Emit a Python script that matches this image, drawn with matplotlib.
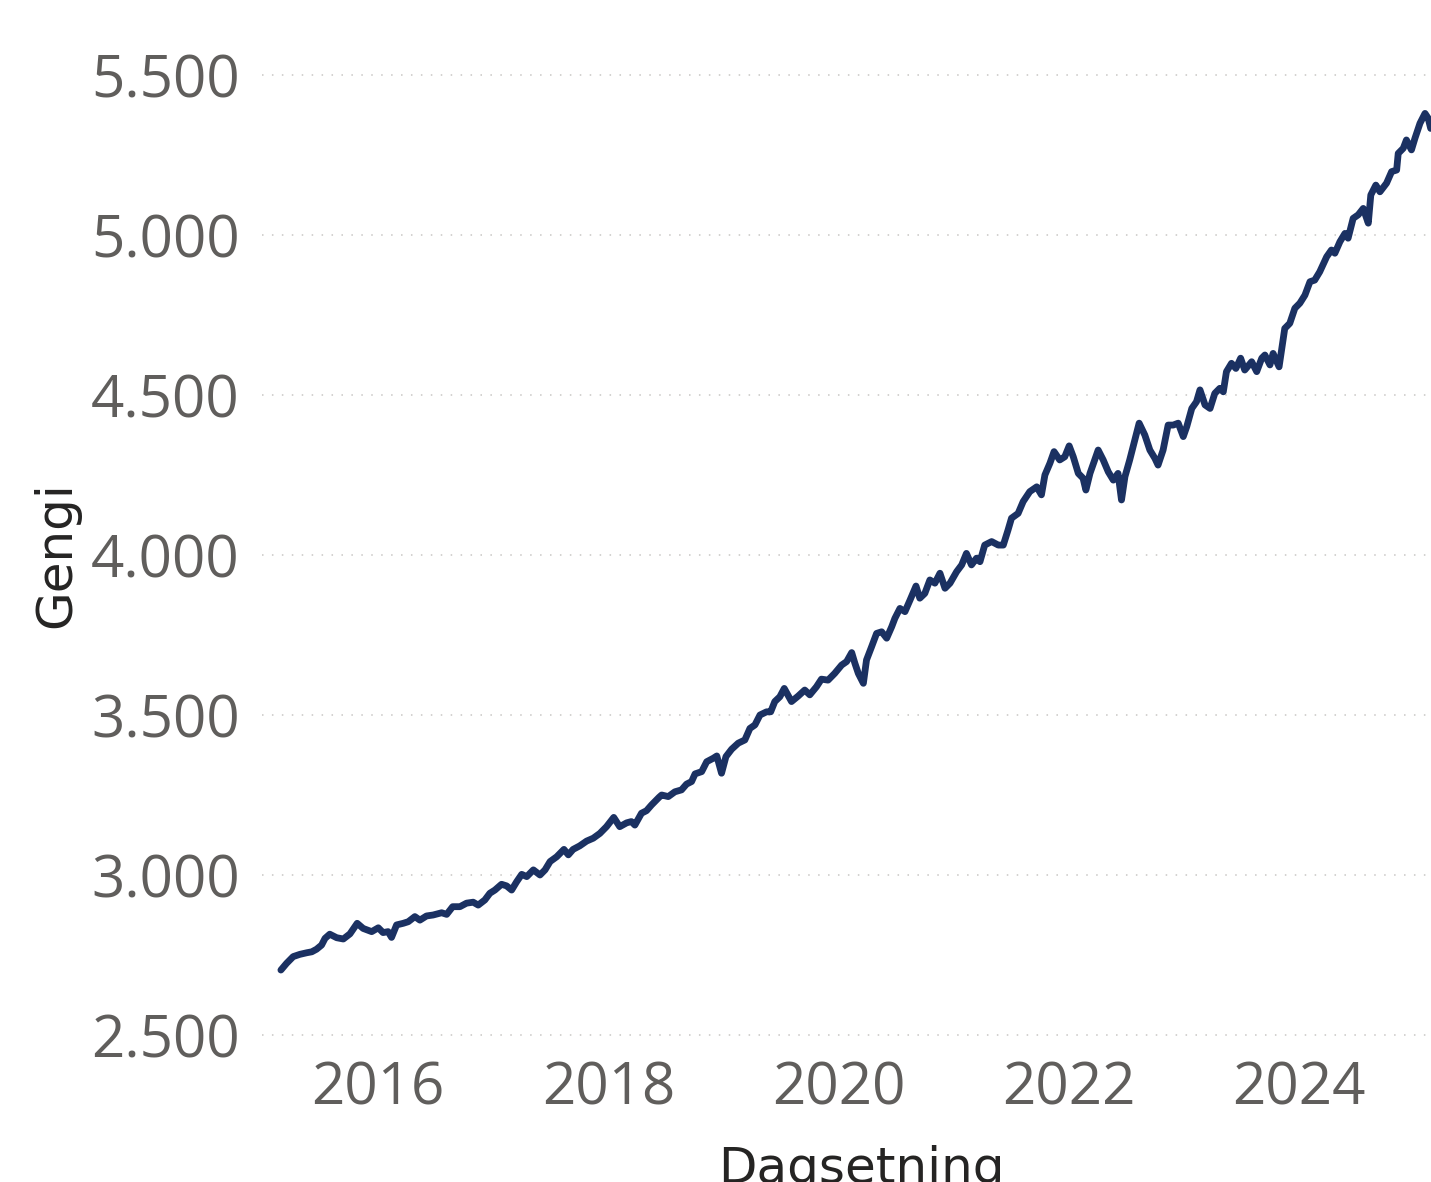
import matplotlib
matplotlib.use("Agg")
import matplotlib.pyplot as plt
import pandas as pd
from matplotlib.ticker import FuncFormatter

# ---- data ----
dagsetning = [
    "2015-02-27", "2015-03-17", "2015-04-07", "2015-04-28", "2015-05-20", "2015-06-05",
    "2015-06-20", "2015-07-06", "2015-07-17", "2015-08-01", "2015-08-23", "2015-09-13",
    "2015-10-04", "2015-10-27", "2015-11-15", "2015-12-12", "2016-01-02", "2016-01-17",
    "2016-02-02", "2016-02-13", "2016-02-29", "2016-03-21", "2016-04-06", "2016-04-27",
    "2016-05-13", "2016-06-03", "2016-06-24", "2016-07-21", "2016-08-06", "2016-08-25",
    "2016-09-17", "2016-10-08", "2016-10-29", "2016-11-14", "2016-12-05", "2016-12-21",
    "2017-01-06", "2017-01-27", "2017-02-12", "2017-02-28", "2017-03-16", "2017-04-01",
    "2017-04-17", "2017-05-08", "2017-05-29", "2017-06-14", "2017-06-30", "2017-07-21",
    "2017-08-13", "2017-08-27", "2017-09-11", "2017-10-02", "2017-10-24", "2017-11-14",
    "2017-12-05", "2017-12-26", "2018-01-18", "2018-02-06", "2018-02-28", "2018-03-15",
    "2018-03-26", "2018-04-16", "2018-05-02", "2018-05-18", "2018-06-11", "2018-06-19",
    "2018-07-10", "2018-07-31", "2018-08-21", "2018-09-06", "2018-09-22", "2018-10-03",
    "2018-10-24", "2018-11-09", "2018-11-30", "2018-12-11", "2018-12-26", "2019-01-09",
    "2019-01-27", "2019-02-17", "2019-03-10", "2019-03-26", "2019-04-11", "2019-04-27",
    "2019-05-18", "2019-05-31", "2019-06-13", "2019-06-29", "2019-07-13", "2019-08-05",
    "2019-08-26", "2019-09-16", "2019-10-02", "2019-10-23", "2019-11-08", "2019-11-29",
    "2019-12-20", "2020-01-11", "2020-01-27", "2020-02-12", "2020-02-22", "2020-03-04",
    "2020-03-20", "2020-03-30", "2020-04-15", "2020-05-01", "2020-05-17", "2020-06-02",
    "2020-06-18", "2020-06-28", "2020-07-14", "2020-07-30", "2020-08-15", "2020-09-03",
    "2020-09-15", "2020-10-01", "2020-10-17", "2020-11-02", "2020-11-18", "2020-12-04",
    "2020-12-20", "2021-01-10", "2021-01-26", "2021-02-10", "2021-02-26", "2021-03-14",
    "2021-03-25", "2021-04-09", "2021-05-01", "2021-05-22", "2021-06-07", "2021-06-22",
    "2021-07-03", "2021-07-24", "2021-08-09", "2021-08-30", "2021-09-21", "2021-10-06",
    "2021-10-17", "2021-11-02", "2021-11-15", "2021-12-03", "2021-12-19", "2022-01-02",
    "2022-01-15", "2022-01-31", "2022-02-15", "2022-02-24", "2022-03-09", "2022-03-24",
    "2022-04-04", "2022-04-20", "2022-05-06", "2022-05-22", "2022-06-06", "2022-06-17",
    "2022-06-28", "2022-07-13", "2022-07-29", "2022-08-12", "2022-08-30", "2022-09-15",
    "2022-10-01", "2022-10-11", "2022-10-27", "2022-11-12", "2022-11-28", "2022-12-14",
    "2022-12-30", "2023-01-10", "2023-01-26", "2023-02-10", "2023-02-21", "2023-03-09",
    "2023-03-25", "2023-04-09", "2023-04-25", "2023-05-06", "2023-05-16", "2023-06-01",
    "2023-06-15", "2023-06-30", "2023-07-13", "2023-08-04", "2023-08-20", "2023-09-05",
    "2023-09-15", "2023-10-01", "2023-10-11", "2023-10-30", "2023-11-10", "2023-11-17",
    "2023-12-03", "2023-12-19", "2024-01-04", "2024-01-20", "2024-02-05", "2024-02-20",
    "2024-03-07", "2024-03-29", "2024-04-13", "2024-04-24", "2024-05-10", "2024-05-26",
    "2024-06-05", "2024-06-21", "2024-07-07", "2024-07-23", "2024-08-08", "2024-08-16",
    "2024-09-01", "2024-09-14", "2024-10-05", "2024-10-21", "2024-11-06", "2024-11-11",
    "2024-11-27", "2024-12-07", "2024-12-23", "2025-01-03", "2025-01-19", "2025-02-04",
    "2025-02-14", "2025-02-22",
]

gengi = [
    2703, 2724, 2745, 2752, 2757, 2760,
    2768, 2781, 2802, 2815, 2804, 2800,
    2816, 2849, 2833, 2823, 2835, 2820,
    2823, 2805, 2844, 2849, 2854, 2870,
    2859, 2872, 2875, 2882, 2877, 2901,
    2901, 2912, 2915, 2906, 2922, 2943,
    2953, 2971, 2966, 2953, 2979, 3002,
    2995, 3016, 3000, 3016, 3042, 3057,
    3080, 3063, 3080, 3091, 3106, 3115,
    3130, 3151, 3180, 3151, 3163, 3167,
    3156, 3193, 3201, 3219, 3243, 3250,
    3245, 3260, 3266, 3284, 3292, 3316,
    3323, 3354, 3365, 3372, 3318, 3370,
    3393, 3412, 3422, 3458, 3469, 3500,
    3510, 3510, 3542, 3557, 3583, 3542,
    3559, 3578, 3563, 3588, 3612, 3609,
    3630, 3656, 3667, 3695, 3662, 3630,
    3599, 3672, 3713, 3755, 3760, 3740,
    3776, 3802, 3833, 3823, 3859, 3903,
    3865, 3880, 3922, 3912, 3943, 3896,
    3912, 3948, 3969, 4005, 3969, 3990,
    3979, 4031, 4042, 4031, 4031, 4078,
    4115, 4130, 4167, 4198, 4213, 4188,
    4250, 4287, 4323, 4297, 4307, 4341,
    4307, 4255, 4240, 4203, 4255, 4297,
    4328, 4297, 4260, 4234, 4255, 4172,
    4245, 4297, 4359, 4412, 4375, 4328,
    4302, 4281, 4328, 4406, 4406, 4412,
    4370, 4401, 4458, 4479, 4516, 4469,
    4458, 4505, 4521, 4510, 4573, 4599,
    4583, 4615, 4578, 4604, 4573, 4615,
    4625, 4594, 4630, 4588, 4662, 4708,
    4724, 4771, 4787, 4812, 4854, 4859,
    4885, 4932, 4953, 4943, 4979, 5005,
    4990, 5052, 5063, 5083, 5037, 5125,
    5156, 5135, 5162, 5198, 5203, 5255,
    5271, 5297, 5266, 5302, 5349, 5380,
    5365, 5333,
]

x_tick_dates = ["2016-01-01", "2018-01-01", "2020-01-01", "2022-01-01", "2024-01-01"]
x_tick_labels = ["2016", "2018", "2020", "2022", "2024"]
y_ticks = [2500, 3000, 3500, 4000, 4500, 5000, 5500]

# ---- figure ----
W, H = 1431, 1182
fig = plt.figure(figsize=(W / 100, H / 100), dpi=100)
fig.patch.set_facecolor("white")

left_px, right_px, top_px, bottom_px = 262, 1431, 59, 1045
ax = fig.add_axes([left_px / W, 1 - bottom_px / H,
                   (right_px - left_px) / W, (bottom_px - top_px) / H])

dates = pd.to_datetime(dagsetning)
ax.plot(dates, gengi, color="#1B3162", linewidth=4.9,
        solid_joinstyle="round", solid_capstyle="round", zorder=3)

ax.set_xlim(pd.Timestamp("2014-12-29"), pd.Timestamp("2025-02-23"))
ax.set_ylim(2468.75, 5550)

ax.set_xticks(pd.to_datetime(x_tick_dates))
ax.set_xticklabels(x_tick_labels)
ax.set_yticks(y_ticks)
ax.yaxis.set_major_formatter(FuncFormatter(lambda v, p: f"{int(v):,}".replace(",", ".")))

tick_color = "#605E5C"
for lab in ax.get_xticklabels() + ax.get_yticklabels():
    lab.set_fontfamily("Open Sans")
    lab.set_fontsize(42)
    lab.set_color(tick_color)

ax.tick_params(axis="both", length=0)
ax.tick_params(axis="y", pad=16)
ax.tick_params(axis="x", pad=11)

ax.yaxis.grid(True, color="#C8C6C4", linestyle=(0, (1, 5.5)), linewidth=1.1, zorder=0)
ax.xaxis.grid(False)
for sp in ax.spines.values():
    sp.set_visible(False)
ax.set_facecolor("white")

title_color = "#252423"
fig.text(56 / W, 1 - 555 / H, "Gengi", rotation=90, ha="center", va="center",
         fontsize=36, color=title_color, family="DejaVu Sans", fontweight="medium")
fig.text(861 / W, 1 - 1183 / H, "Dagsetning", ha="center", va="baseline",
         fontsize=36, color=title_color, family="DejaVu Sans", fontweight="medium")

fig.savefig("out.png", dpi=100, facecolor="white")
